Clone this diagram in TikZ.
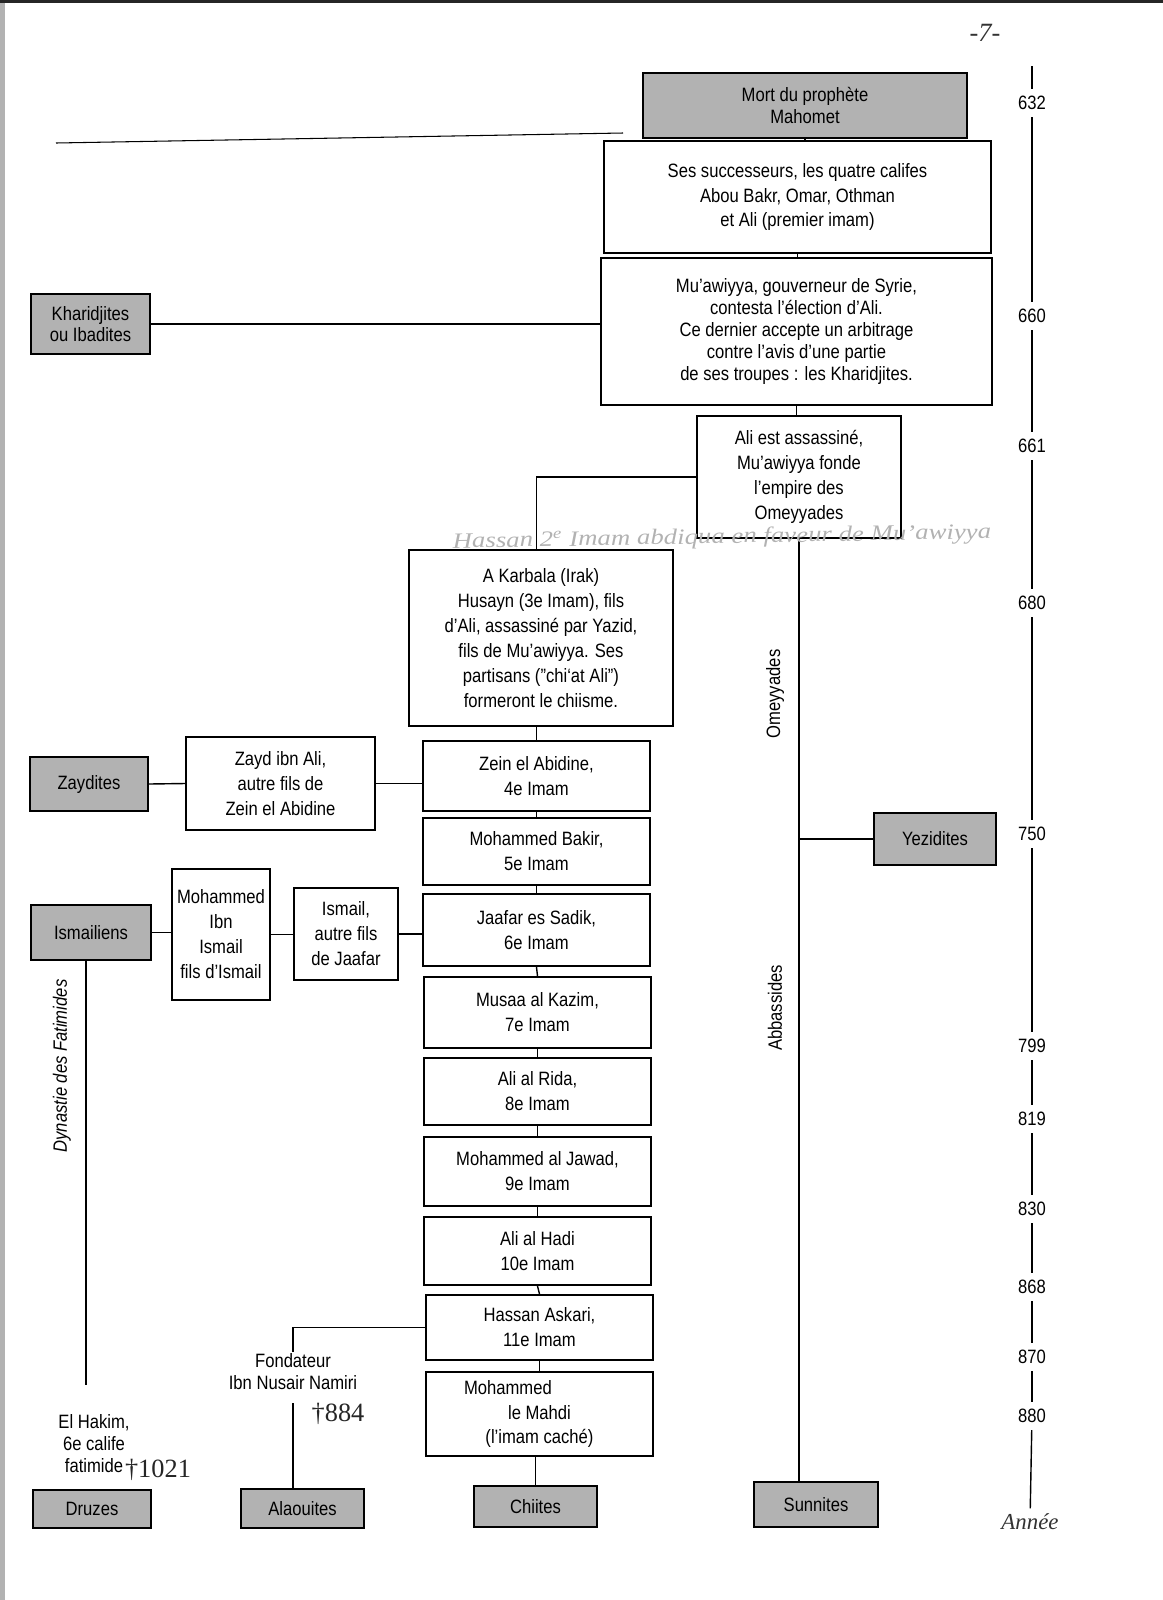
\documentclass[tikz,border=0pt]{standalone}
\usepackage{fontspec}
\setmainfont{Liberation Sans}[FakeStretch=0.86]
\newfontfamily\handfont{Liberation Serif}
\usepackage{tikz}
\usetikzlibrary{calc}
\tikzstyle{bx} = [rectangle, draw, line width=1.1pt, align=center, inner sep=1pt, font=\fontsize{11}{14.2}\selectfont]
\tikzstyle{sh} = [bx, fill=gray!60, line width=1.3pt]
\tikzstyle{yr} = [font=\fontsize{11}{13}\selectfont, inner sep=4pt]
\tikzstyle{hw} = [text=gray!60, font=\handfont\itshape\fontsize{13}{15}\selectfont]
\tikzstyle{lk} = [line width=0.8pt]

\begin{document}
\begin{tikzpicture}[x=0.02cm,y=-0.02cm]
	\useasboundingbox (0,0) rectangle (1163,1600);
	% bord de la feuille
	\fill[gray!60] (0,0) rectangle (5,1600);
	\fill[black!85] (0,0) rectangle (1163,3);
	\coordinate (t1) at (56,143);
	\coordinate (t2) at (623,133);
	\draw[line width=0.6pt] (t1) -- (t2);
	\node[hw, text=black!80, font=\handfont\itshape\fontsize{15}{17}\selectfont] (page) at (985,33) {-7-};
	% colonne des califes
	\node[sh, minimum width=6.48cm, minimum height=1.3cm, font=\fontsize{11}{12}\selectfont] (mort) at (805,105.5) {Mort du prophète\\Mahomet};
	\node[bx, minimum width=7.74cm, minimum height=2.24cm] (succ) at (797.5,197) {Ses successeurs, les quatre califes\\Abou Bakr, Omar, Othman\\et Ali (premier imam)};
	\node[bx, minimum width=7.82cm, minimum height=2.94cm, font=\fontsize{11}{12.5}\selectfont] (muaw) at (796.5,331.5) {Mu’awiyya, gouverneur de Syrie,\\contesta l’élection d’Ali.\\Ce dernier accepte un arbitrage\\contre l’avis d’une partie\\de ses troupes : les Kharidjites.};
	\node[sh, minimum width=2.38cm, minimum height=1.2cm, font=\fontsize{11}{12}\selectfont] (khar) at (90.5,324) {Kharidjites\\ou Ibadites};
	\node[bx, minimum width=4.08cm, minimum height=2.44cm] (ali) at (799,477) {Ali est assassiné,\\Mu’awiyya fonde\\l’empire des\\Omeyyades};
	\node[bx, minimum width=5.28cm, minimum height=3.52cm] (karb) at (541,638) {A Karbala (Irak)\\Husayn (3e Imam), fils\\d’Ali, assassiné par Yazid,\\fils de Mu’awiyya. Ses\\partisans ("chi‘at Ali")\\formeront le chiisme.};
	% les imams
	\node[bx, minimum width=4.54cm, minimum height=1.4cm] (zein) at (536.5,776) {Zein el Abidine,\\4e Imam};
	\node[bx, minimum width=4.54cm, minimum height=1.34cm] (bakir) at (536.5,851.5) {Mohammed Bakir,\\5e Imam};
	\node[bx, minimum width=4.54cm, minimum height=1.44cm] (jaafar) at (536.5,930) {Jaafar es Sadik,\\6e Imam};
	\node[bx, minimum width=4.54cm, minimum height=1.42cm] (musaa) at (537.5,1012.5) {Musaa al Kazim,\\7e Imam};
	\node[bx, minimum width=4.54cm, minimum height=1.34cm] (rida) at (537.5,1091.5) {Ali al Rida,\\8e Imam};
	\node[bx, minimum width=4.54cm, minimum height=1.38cm] (jawad) at (537.5,1171.5) {Mohammed al Jawad,\\9e Imam};
	\node[bx, minimum width=4.54cm, minimum height=1.36cm] (hadi) at (537.5,1251) {Ali al Hadi\\10e Imam};
	\node[bx, minimum width=4.54cm, minimum height=1.3cm] (askari) at (539.5,1327.5) {Hassan Askari,\\11e Imam};
	\node[bx, minimum width=4.54cm, minimum height=1.68cm] (mahdi) at (539.5,1414) {Mohammed\hspace*{36pt}\\le Mahdi\\(l’imam caché)};
	% branches
	\node[bx, minimum width=3.78cm, minimum height=1.86cm] (zayd) at (280.5,783.5) {Zayd ibn Ali,\\autre fils de\\Zein el Abidine};
	\node[sh, minimum width=2.36cm, minimum height=1.08cm] (zaydites) at (89,784) {Zaydites};
	\node[bx, minimum width=2.08cm, minimum height=1.84cm] (ismail) at (346,934) {Ismail,\\autre fils\\de Jaafar};
	\node[bx, minimum width=1.96cm, minimum height=2.62cm] (mohib) at (221,934.5) {Mohammed\\Ibn\\Ismail\\fils d’Ismail};
	\node[sh, minimum width=2.4cm, minimum height=1.1cm] (ismailiens) at (91,932.5) {Ismailiens};
	\node[sh, minimum width=2.44cm, minimum height=1.04cm] (yezid) at (935,839) {Yezidites};
	\node[align=center, font=\fontsize{11}{12.5}\selectfont] (hakim) at (94,1444) {El Hakim,\\6e calife\\fatimide};
	\node[align=center, font=\fontsize{11}{12.5}\selectfont, inner sep=1pt] (fond) at (293,1372) {Fondateur\\Ibn Nusair Namiri};
	% groupes du bas
	\node[sh, minimum width=2.36cm, minimum height=0.76cm] (druzes) at (92,1509) {Druzes};
	\node[sh, minimum width=2.46cm, minimum height=0.78cm] (alaouites) at (302.5,1508.5) {Alaouites};
	\node[sh, minimum width=2.46cm, minimum height=0.82cm] (chiites) at (535.5,1506.5) {Chiites};
	\node[sh, minimum width=2.48cm, minimum height=0.9cm] (sunnites) at (816,1504.5) {Sunnites};
	% dynasties
	\node[rotate=90, font=\fontsize{11}{13}\selectfont] (omey) at (775,694) {Omeyyades};
	\node[rotate=90, font=\fontsize{11}{13}\selectfont] (abba) at (775,1008) {Abbassides};
	\node[rotate=90, font=\fontsize{11}{13}\selectfont\itshape] (fati) at (62,1066) {Dynastie des Fatimides};
	% liens
	\draw[lk] (mort.south) -- (mort.south |- succ.north);
	\draw[lk] (succ.south) -- (succ.south |- muaw.north);
	\draw[lk] (muaw.south) -- (muaw.south |- ali.north);
	\draw[lk] (khar.east) -- (khar.east -| muaw.west);
	\draw[lk] (ali.west) -| (zein.north |- karb.north);
	\draw[lk] (ali.south) -- (ali.south |- sunnites.north);
	\draw[lk] (yezid.west) -- (yezid.west -| ali.south);
	\draw[lk] (zein.north |- karb.south) -- (zein.north);
	\foreach \from/\to in {zein/bakir,bakir/jaafar,jaafar/musaa,musaa/rida,rida/jawad,jawad/hadi,hadi/askari,askari/mahdi}
		\draw[lk] (\from.south) -- (\to.north);
	\draw[lk] (chiites.north |- mahdi.south) -- (chiites.north);
	\draw[lk] (zaydites.east) -- (zayd.west);
	\draw[lk] (zayd.east) -- (zayd.east -| zein.west);
	\draw[lk] (ismailiens.east) -- (ismailiens.east -| mohib.west);
	\draw[lk] (mohib.east) -- (mohib.east -| ismail.west);
	\draw[lk] (ismail.east) -- (ismail.east -| jaafar.west);
	\coordinate (hakimtop) at (86,1385);
	\draw[lk] (hakimtop |- ismailiens.south) -- (hakimtop);
	\draw[lk] (askari.west) -| (fond.north);
	\coordinate (alaline) at (293,1403);
	\draw[lk] (alaline) -- (alaline |- alaouites.north);
	% echelle des annees
	\coordinate (y0) at (1032,66);
	\node[yr] (y632) at (1032,103) {632};
	\node[yr] (y660) at (1032,316) {660};
	\node[yr] (y661) at (1032,446) {661};
	\node[yr] (y680) at (1032,603) {680};
	\node[yr] (y750) at (1032,834) {750};
	\node[yr] (y799) at (1032,1046) {799};
	\node[yr] (y819) at (1032,1119) {819};
	\node[yr] (y830) at (1032,1209) {830};
	\node[yr] (y868) at (1032,1287) {868};
	\node[yr] (y870) at (1032,1357) {870};
	\node[yr] (y880) at (1032,1416) {880};
	\node[hw, text=black!80, inner sep=3pt] (ann) at (1030,1522) {Année};
	\foreach \from/\to in {y0/y632,y632/y660,y660/y661,y661/y680,y680/y750,y750/y799,y799/y819,y819/y830,y830/y868,y868/y870,y870/y880,y880/ann}
		\draw[lk] (\from) -- (\to);
	% notes a la main
	\node[hw, rotate=1, xscale=1.22, inner sep=0pt, font=\handfont\itshape\fontsize{12.5}{14}\selectfont] (hassan) at (722,538) {Hassan 2\textsuperscript{e} Imam abdiqua en faveur de Mu’awiyya};
	\node[hw, text=black!85, font=\handfont\fontsize{15}{17}\selectfont] (d1021) at (158,1470) {†1021};
	\node[hw, text=black!85, font=\handfont\fontsize{15}{17}\selectfont] (d884) at (338,1414) {†884};
\end{tikzpicture}
\end{document}
